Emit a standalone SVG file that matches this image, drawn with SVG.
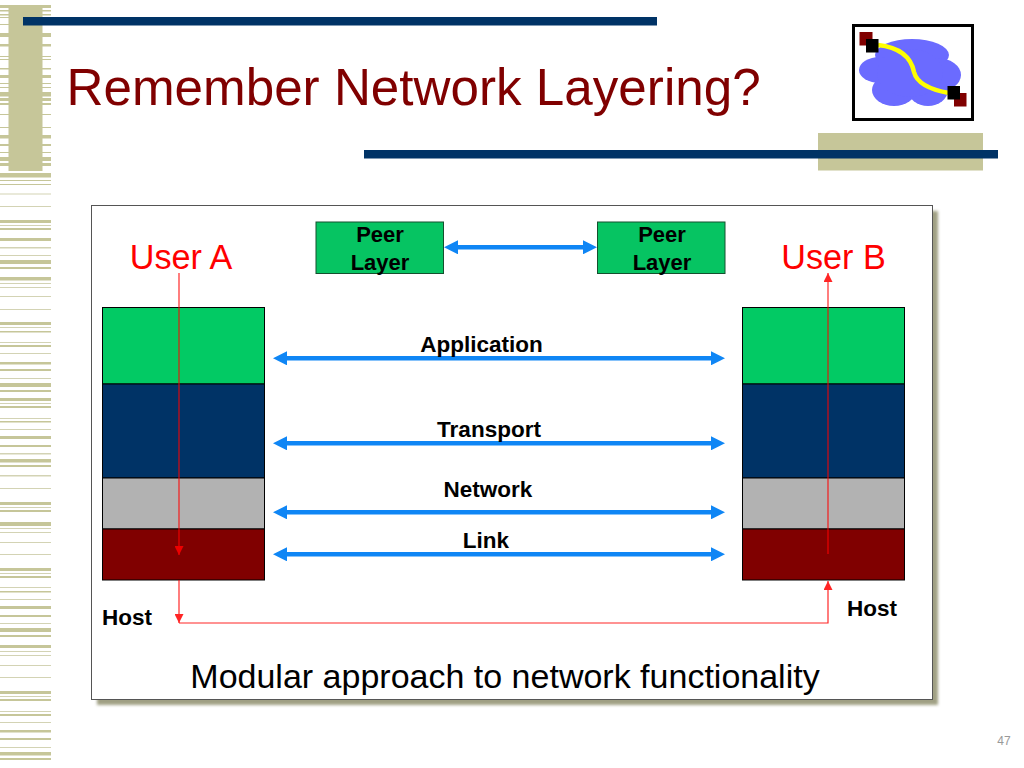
<svg xmlns="http://www.w3.org/2000/svg" width="1024" height="768" viewBox="0 0 1024 768">
<style>
text{font-family:"Liberation Sans",Arial,sans-serif}
.b{font-weight:bold;font-size:22px;fill:#000;text-anchor:middle}
.lb{font-weight:bold;font-size:22.5px;fill:#000;text-anchor:middle}
.u{font-size:34.2px;fill:#ff0000;text-anchor:middle}
.line{stroke:#000;stroke-width:1}
.g{fill:#02ca64}.n{fill:#003366}.s{fill:#b2b2b2}.r{fill:#800000}
.ba{stroke:#0f86f5;stroke-width:4.4;fill:none;marker-start:url(#bs);marker-end:url(#be)}
.ra{stroke:#ff0000;stroke-width:1.2;fill:none;opacity:.85}
</style>
<defs>
<marker id="be" markerUnits="userSpaceOnUse" markerWidth="14" markerHeight="14" refX="7" refY="7" orient="auto"><path d="M0 0L14 7L0 14z" fill="#0f86f5"/></marker>
<marker id="bs" markerUnits="userSpaceOnUse" markerWidth="14" markerHeight="14" refX="7" refY="7" orient="auto"><path d="M14 0L0 7L14 14z" fill="#0f86f5"/></marker>
<marker id="re" markerUnits="userSpaceOnUse" markerWidth="9" markerHeight="9" refX="9" refY="4.5" orient="auto"><path d="M0 0L9 4.500L0 9z" fill="#ff0000"/></marker>
<filter id="blur" x="-5%" y="-5%" width="110%" height="110%"><feGaussianBlur stdDeviation="1.6"/></filter>
</defs>
<rect width="1024" height="768" fill="#fff"/>
<g id="decor">
<path fill="#c6c699" d="M0 5h51v3H0zM0 10h51v1.500H0zM0 14h51v1.500H0zM0 17h51v1H0zM0 24h51v1H0zM0 33h51v4H0zM0 44h51v2.500H0zM0 56h51v1H0zM0 59h51v1H0zM0 68h51v1.500H0zM0 75h51v3H0zM0 83h51v1H0zM0 87h51v1H0zM0 92h51v4.500H0zM0 98h51v3H0zM0 103h51v2H0zM0 114h51v1H0zM0 127h51v1H0zM0 135h51v3.500H0zM0 144h51v2H0zM0 152h51v1H0zM0 157h51v4H0zM0 163h51v3H0zM0 173h51v4.500H0zM0 180h51v1H0zM0 184h51v1H0zM0 220h51v3H0zM0 228h51v2H0zM0 238h51v3H0zM0 260h51v4H0zM0 267h51v2H0zM0 277h51v3.500H0zM0 322h51v3H0zM0 331h51v1.500H0zM0 345h51v2H0zM0 362h51v2.500H0zM0 369h51v2H0zM0 383h51v4H0zM0 390h51v2H0zM0 398h51v3H0zM0 406h51v2H0zM0 421h51v1.500H0zM0 436h51v3H0zM0 445h51v2H0zM0 459h51v3.500H0zM0 465h51v2H0zM0 502h51v3H0zM0 510h51v2H0zM0 522h51v4H0zM0 568h51v3H0zM0 576h51v2H0zM0 591h51v1.500H0zM0 606h51v3H0zM0 615h51v2H0zM0 628h51v4H0zM0 635h51v2H0zM0 645h51v3H0zM0 691h51v3H0zM0 699h51v2H0zM0 714h51v2H0zM0 730h51v2.500H0zM0 738h51v2H0zM0 752h51v3.500H0zM0 758h51v2H0z"/>
<path fill="#d3d3b4" d="M0 193.500h51v1H0zM0 206h51v1H0zM0 225h51v1H0zM0 247h51v1.500H0zM0 255h51v1H0zM0 283h51v1H0zM0 287h51v1H0zM0 296h51v1H0zM0 309h51v1H0zM0 327h51v1H0zM0 342h51v1H0zM0 353h51v1H0zM0 378h51v1H0zM0 403h51v1H0zM0 418h51v1H0zM0 429h51v1H0zM0 453h51v1.500H0zM0 475h51v1.500H0zM0 488h51v1H0zM0 507h51v1H0zM0 528h51v1H0zM0 532h51v1H0zM0 542h51v1H0zM0 554h51v1H0zM0 573h51v1H0zM0 587h51v1H0zM0 599h51v1H0zM0 623h51v1H0zM0 651h51v1H0zM0 655h51v1H0zM0 665h51v1H0zM0 677h51v1H0zM0 696h51v1H0zM0 711h51v1H0zM0 722h51v1H0zM0 747h51v1H0z"/>
<rect x="8.500" y="5" width="34" height="166" fill="#c6c699"/>
<rect x="818" y="133" width="165" height="37.500" fill="#c6c699"/>
<rect x="23" y="17" width="634" height="8.500" fill="#003366"/>
<rect x="364" y="150" width="634" height="8.500" fill="#003366"/>
</g>
<g id="title"><text x="66.500" y="105" font-size="51.200" fill="#800000">Remember Network Layering?</text></g>
<g id="logo">
<rect x="853.500" y="25.500" width="119" height="94" fill="#fff" stroke="#000" stroke-width="3"/>
<g fill="#6b6bff">
<ellipse cx="912" cy="55" rx="37" ry="16"/>
<ellipse cx="880" cy="70" rx="21" ry="13"/>
<ellipse cx="937" cy="75" rx="24" ry="17"/>
<ellipse cx="894" cy="90" rx="22" ry="16"/>
<ellipse cx="928" cy="90" rx="20" ry="16"/>
<ellipse cx="910" cy="73" rx="33" ry="24"/>
</g>
<path d="M878 45C905 48 912 62 914 72C917 84 932 90 949 93" fill="none" stroke="#ffff00" stroke-width="4.500"/>
<rect x="859.500" y="32" width="13" height="13.500" fill="#800000"/>
<rect x="866" y="39" width="12.500" height="13.500" fill="#000"/>
<rect x="954" y="93" width="12.500" height="13.500" fill="#800000"/>
<rect x="947.500" y="86" width="12.500" height="13.500" fill="#000"/>
</g>
<g id="panel">
<rect x="97" y="211" width="841" height="494" fill="#a0a084" filter="url(#blur)"/>
<rect x="91.500" y="205.500" width="841" height="494" fill="#fff" stroke="#555" stroke-width="1"/>
</g>
<g id="stack-a">
<rect class="g line" x="102.500" y="307.500" width="162" height="76.500"/>
<rect class="n line" x="102.500" y="384" width="162" height="94"/>
<rect class="s line" x="102.500" y="478" width="162" height="51"/>
<rect class="r line" x="102.500" y="529" width="162" height="51"/>
</g>
<g id="stack-b">
<rect class="g line" x="742.500" y="307.500" width="162" height="76.500"/>
<rect class="n line" x="742.500" y="384" width="162" height="94"/>
<rect class="s line" x="742.500" y="478" width="162" height="51"/>
<rect class="r line" x="742.500" y="529" width="162" height="51"/>
</g>
<g id="peer-a">
<rect x="316" y="222" width="127.500" height="51.500" fill="#06c462" stroke="#14502e" stroke-width="1"/>
<text class="b" x="380" y="242">Peer</text>
<text class="b" x="380" y="269.500">Layer</text>
</g>
<g id="peer-b">
<rect x="597.500" y="222" width="127.500" height="51.500" fill="#06c462" stroke="#14502e" stroke-width="1"/>
<text class="b" x="662" y="242">Peer</text>
<text class="b" x="662" y="269.500">Layer</text>
</g>
<g id="connectors">
<line class="ba" x1="451" y1="247.300" x2="590" y2="247.300"/>
<line class="ba" x1="280" y1="358.300" x2="718" y2="358.300"/>
<line class="ba" x1="280" y1="443.300" x2="718" y2="443.300"/>
<line class="ba" x1="280" y1="512.300" x2="718" y2="512.300"/>
<line class="ba" x1="280" y1="554.300" x2="718" y2="554.300"/>
<line class="ra" x1="179" y1="273" x2="179" y2="555" marker-end="url(#re)"/>
<line class="ra" x1="179" y1="580" x2="179" y2="623" marker-end="url(#re)"/>
<path class="ra" d="M179 623H828V581" marker-end="url(#re)"/>
<line class="ra" x1="828" y1="554" x2="828" y2="273" marker-end="url(#re)"/>
</g>
<g id="labels">
<text class="u" x="181" y="269">User A</text>
<text class="u" x="833.500" y="269">User B</text>
<text class="lb" x="481.500" y="351.500">Application</text>
<text class="lb" x="489" y="437">Transport</text>
<text class="lb" x="488" y="496.500">Network</text>
<text class="lb" x="486" y="548">Link</text>
<text class="lb" x="127" y="625">Host</text>
<text class="lb" x="872" y="616">Host</text>
<text x="505" y="688" font-size="34" fill="#000" text-anchor="middle">Modular approach to network functionality</text>
<text x="1004" y="745" font-size="12" fill="#999" text-anchor="middle">47</text>
</g>
</svg>
